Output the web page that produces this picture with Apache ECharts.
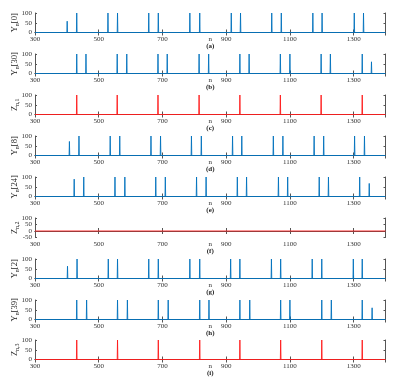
<!DOCTYPE html>
<html>
<head>
<meta charset="utf-8">
<script src="https://cdn.jsdelivr.net/npm/echarts@6/dist/echarts.min.js"></script>
<style>
html,body{margin:0;padding:0;background:#fff}
#chart{width:397px;height:379px}
</style>
</head>
<body>
<div id="chart"></div>
<script>
// axis range of n
var xMin = 300;
var xMax = 1400;
var xStep = 200;

// y-axis labels and captions, one per panel
var yNames = [
    ['Υ', 'n', '[0]'],
    ['Υ', 'n', '[30]'],
    ['Z', 'n,1', ''],
    ['Υ', 'n', '[8]'],
    ['Υ', 'n', '[24]'],
    ['Z', 'n,2', ''],
    ['Υ', 'n', '[2]'],
    ['Υ', 'n', '[39]'],
    ['Z', 'n,3', '']
];
var captions = ['(a)', '(b)', '(c)', '(d)', '(e)', '(f)', '(g)', '(h)', '(i)'];
var yMins = [0, 0, 0, 0, 0, -50, 0, 0, 0];
var isZ = [false, false, true, false, false, true, false, false, true];

// spike positions (n) and heights
var aPos = [401, 431, 529, 559, 657, 687, 786, 817, 916, 945, 1043, 1073, 1172, 1201, 1302, 1331];
var aVal = [58, 100, 100, 100, 100, 100, 100, 100, 100, 100, 100, 100, 100, 100, 100, 100];

var bPos = [332, 431, 460, 558, 588, 686, 715, 815, 845, 943, 972, 1070, 1100, 1198, 1227, 1327, 1356];
var bVal = [5, 100, 100, 100, 100, 100, 100, 100, 100, 100, 100, 100, 100, 100, 100, 100, 60];

var cPos = [431, 558, 686, 815, 943, 1070, 1198, 1327];
var cVal = [100, 100, 100, 100, 100, 100, 100, 100];

var dPos = [408, 438, 536, 566, 664, 694, 791, 822, 920, 949, 1048, 1078, 1176, 1206, 1303, 1334];
var dVal = [72, 100, 100, 100, 100, 100, 100, 100, 100, 100, 100, 100, 100, 100, 100, 100];

var ePos = [325, 423, 453, 551, 582, 679, 709, 807, 837, 935, 964, 1064, 1093, 1192, 1221, 1319, 1349];
var eVal = [5, 89, 100, 100, 100, 100, 100, 100, 100, 100, 100, 100, 100, 100, 100, 100, 67];

var fPos = [];
var fVal = [];

var gPos = [402, 432, 530, 559, 657, 687, 786, 817, 914, 943, 1042, 1071, 1170, 1200, 1299, 1327];
var gVal = [63, 100, 100, 100, 100, 100, 100, 100, 100, 100, 100, 100, 100, 100, 100, 100];

var hPos = [334, 431, 462, 559, 590, 687, 718, 817, 846, 943, 974, 1071, 1100, 1200, 1230, 1327, 1358];
var hVal = [5, 100, 100, 100, 100, 100, 100, 100, 100, 100, 100, 100, 100, 100, 100, 100, 60];

var iPos = [431, 559, 687, 817, 943, 1071, 1200, 1327];
var iVal = [100, 100, 100, 100, 100, 100, 100, 100];

var allPos = [aPos, bPos, cPos, dPos, ePos, fPos, gPos, hPos, iPos];
var allVal = [aVal, bVal, cVal, dVal, eVal, fVal, gVal, hVal, iVal];

// spike train: zero everywhere, one sample at each peak
function spikes(pos, val) {
    var out = [[xMin, 0]];
    for (var k = 0; k < pos.length; k++) {
        out.push([pos[k] - 1, 0]);
        out.push([pos[k], val[k]]);
        out.push([pos[k] + 1, 0]);
    }
    out.push([xMax, 0]);
    return out;
}

var tops = [13, 54, 95, 136, 177, 218, 259, 300, 340];
var font = 'Liberation Serif';
var boxColor = '#555';

var grid = [], xAxis = [], yAxis = [], series = [];

function yLabelStyle(extra) {
    var s = {fontFamily: font, fontSize: 7, color: '#333', margin: 3,
             showMinLabel: true, showMaxLabel: true, hideOverlap: false};
    for (var k in extra) s[k] = extra[k];
    return s;
}

for (var i = 0; i < 9; i++) {
    grid.push({left: 35, right: 11.5, top: tops[i], height: 19.5, containLabel: false, outerBoundsMode: 'none'});

    xAxis.push({
        gridIndex: i, type: 'value', position: 'bottom',
        min: xMin, max: xMax, interval: xStep,
        axisLine: {lineStyle: {color: boxColor, width: 1}},
        axisTick: {inside: true, length: 3, lineStyle: {color: boxColor}},
        axisLabel: {
            fontFamily: font, fontSize: 7, color: '#333', margin: 3,
            showMinLabel: true, showMaxLabel: false, hideOverlap: false,
            formatter: function (v) { return String(v); }
        },
        splitLine: {show: false},
        name: '{n|n}\n{c|' + captions[i] + '}',
        nameLocation: 'middle', nameGap: 3, nameMoveOverlap: false,
        nameTextStyle: {
            rich: {
                n: {fontFamily: font, fontSize: 7, color: '#333', lineHeight: 7},
                c: {fontFamily: font, fontSize: 7, fontWeight: 'bold', color: '#222', lineHeight: 8}
            }
        }
    });
    xAxis.push({
        gridIndex: i, type: 'value', position: 'top',
        min: xMin, max: xMax, interval: xStep,
        axisLine: {lineStyle: {color: boxColor, width: 1}},
        axisTick: {inside: true, length: 3, lineStyle: {color: boxColor}},
        axisLabel: {show: false},
        splitLine: {show: false}
    });

    var nm = yNames[i];
    var tight = yMins[i] < 0;
    var mainIndex = yAxis.length;
    yAxis.push({
        gridIndex: i, type: 'value', position: 'left',
        min: yMins[i], max: 100, interval: 50,
        axisLine: {show: true, lineStyle: {color: boxColor, width: 1}},
        axisTick: {show: true, inside: true, length: 2, lineStyle: {color: boxColor}},
        axisLabel: yLabelStyle(tight ? {
            formatter: function (v) { return (v === -50 || v === 50) ? String(v) : ''; }
        } : {}),
        splitLine: {show: false},
        name: '{a|' + nm[0] + '}{s|' + nm[1] + '}' + (nm[2] ? '{a|' + nm[2] + '}' : ''),
        nameLocation: 'middle', nameGap: 15, nameMoveOverlap: false,
        nameTextStyle: {
            rich: {
                a: {fontFamily: font, fontSize: 8.5, color: '#222', lineHeight: 10, verticalAlign: 'middle'},
                s: {fontFamily: font, fontSize: 6, color: '#222', lineHeight: 10, verticalAlign: 'bottom'}
            }
        }
    });
    yAxis.push({
        gridIndex: i, type: 'value', position: 'right',
        min: yMins[i], max: 100, interval: 50,
        axisLine: {show: true, lineStyle: {color: boxColor, width: 1}},
        axisTick: {show: true, inside: true, length: 2, lineStyle: {color: boxColor}},
        axisLabel: {show: false},
        splitLine: {show: false}
    });
    if (tight) {
        // the remaining labels of the crowded axis, on a label-only twin
        yAxis.push({
            gridIndex: i, type: 'value', position: 'left', offset: 0,
            min: yMins[i], max: 100, interval: 50,
            axisLine: {show: false}, axisTick: {show: false},
            axisLabel: yLabelStyle({
                formatter: function (v) { return (v === 0 || v === 100) ? String(v) : ''; }
            }),
            splitLine: {show: false}
        });
    }

    series.push({
        type: 'line',
        xAxisIndex: i * 2, yAxisIndex: mainIndex,
        data: spikes(allPos[i], allVal[i]),
        symbol: 'none',
        silent: true,
        lineStyle: {width: 0.9, color: isZ[i] ? '#ff1a1a' : '#0072bd'}
    });
}

var option = {
    animation: false,
    backgroundColor: '#fff',
    grid: grid,
    xAxis: xAxis,
    yAxis: yAxis,
    series: series
};

var chart = echarts.init(document.getElementById('chart'), null, {renderer: 'canvas'});
chart.setOption(option);
</script>
</body>
</html>
